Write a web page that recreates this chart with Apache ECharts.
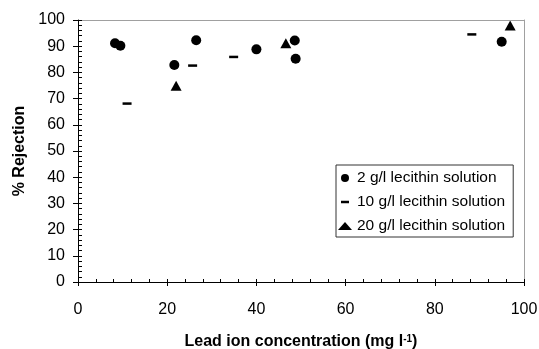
<!DOCTYPE html>
<html>
<head>
<meta charset="utf-8">
<script src="https://cdn.jsdelivr.net/npm/echarts@6/dist/echarts.min.js"></script>
<style>
  html, body { margin: 0; padding: 0; background: #fff; }
  #chart { width: 539px; height: 349px; }
</style>
</head>
<body>
<div id="chart"></div>
<script>
// Lead ion concentration (mg/l) vs % rejection, for three lecithin concentrations
const seriesNames = ['2 g/l lecithin solution', '10 g/l lecithin solution', '20 g/l lecithin solution'];

const lecithin2X = [8.3, 9.5, 21.6, 26.5, 40.0, 48.6, 48.8, 95.0];
const lecithin2Y = [91.1, 90.2, 82.8, 92.3, 88.8, 92.2, 85.2, 91.7];

const lecithin10X = [11.0, 25.7, 34.9, 88.3];
const lecithin10Y = [68.1, 82.6, 85.9, 94.5];

const lecithin20X = [22.0, 46.6, 96.9];
const lecithin20Y = [74.9, 91.1, 97.9];

const xTicks = [0, 20, 40, 60, 80, 100];
const yTicks = [0, 10, 20, 30, 40, 50, 60, 70, 80, 90, 100];

const pairs = (xs, ys) => xs.map((x, i) => [x, ys[i]]);

const FONT = '"Liberation Sans", Arial, sans-serif';
const dashIcon = 'path://M0,0L0,0M14,8L14,8M3,2.75H11V5.25H3Z';
const BLACK = '#000';
const FRAME = '#a0a0a0';

const xMin = xTicks[0], xMax = xTicks[xTicks.length - 1];
const yMin = yTicks[0], yMax = yTicks[yTicks.length - 1];

const chart = echarts.init(document.getElementById('chart'), null, { renderer: 'canvas' });

// bare helper axes: frame lines (top/right) and inward tick marks
function plainAxis(extra) {
  return Object.assign({
    type: 'value',
    axisLine: { show: false, onZero: false },
    axisTick: { show: false },
    minorTick: { show: false },
    splitLine: { show: false },
    axisLabel: { show: false }
  }, extra);
}

chart.setOption({
  animation: false,
  backgroundColor: '#fff',
  textStyle: { fontFamily: FONT },
  grid: {
    left: 78, right: 15, top: 20, bottom: 67, show: false,
    containLabel: false, outerBoundsMode: 'none'
  },
  legend: {
    orient: 'vertical',
    left: 336, top: 165,
    padding: [5, 8, 3, 2],
    itemWidth: 14, itemHeight: 8, itemGap: 8,
    borderColor: '#333', borderWidth: 1, borderRadius: 0,
    backgroundColor: '#fff',
    textStyle: { fontFamily: FONT, fontSize: 15.5, color: BLACK, lineHeight: 16 },
    data: [
      { name: seriesNames[0], icon: 'circle' },
      { name: seriesNames[1], icon: dashIcon },
      { name: seriesNames[2], icon: 'triangle' }
    ]
  },
  xAxis: [
    {
      type: 'value', min: xMin, max: xMax, interval: 20,
      position: 'bottom', z: 5,
      axisLine: { show: true, onZero: false, lineStyle: { color: BLACK, width: 1 } },
      axisTick: { show: true, inside: false, length: 4, lineStyle: { color: BLACK } },
      splitLine: { show: false },
      axisLabel: { fontFamily: FONT, fontSize: 16, color: BLACK, margin: 20 },
      name: '{t|Lead ion concentration (mg l}{s|-1}{t|)}',
      nameLocation: 'middle', nameGap: 52,
      nameTextStyle: {
        rich: {
          t: { fontFamily: FONT, fontSize: 16, fontWeight: 'bold', color: BLACK },
          s: { fontFamily: FONT, fontSize: 10, fontWeight: 'bold', color: BLACK, verticalAlign: 'top' }
        }
      }
    },
    plainAxis({
      min: xMin, max: xMax, interval: 20, position: 'bottom', offset: 0, z: 5,
      axisTick: { show: true, inside: true, length: 3, lineStyle: { color: BLACK } },
      minorTick: { show: true, splitNumber: 5, length: 3, lineStyle: { color: BLACK } }
    }),
    plainAxis({
      min: xMin, max: xMax, interval: 20, position: 'top', z: 4,
      axisLine: { show: true, onZero: false, lineStyle: { color: FRAME, width: 1 } }
    })
  ],
  yAxis: [
    {
      type: 'value', min: yMin, max: yMax, interval: 10,
      position: 'left', z: 5,
      axisLine: { show: true, onZero: false, lineStyle: { color: BLACK, width: 1 } },
      axisTick: { show: true, inside: false, length: 5, lineStyle: { color: BLACK } },
      splitLine: { show: false },
      axisLabel: { fontFamily: FONT, fontSize: 16, color: BLACK, margin: 13 },
      name: '% Rejection',
      nameLocation: 'middle', nameGap: 49,
      nameTextStyle: { fontFamily: FONT, fontSize: 16, fontWeight: 'bold', color: BLACK }
    },
    plainAxis({
      min: yMin, max: yMax, interval: 10, position: 'left', offset: 0, z: 5,
      axisTick: { show: true, inside: true, length: 4, lineStyle: { color: BLACK } },
      minorTick: { show: true, splitNumber: 5, length: 4, lineStyle: { color: BLACK } }
    }),
    plainAxis({
      min: yMin, max: yMax, interval: 10, position: 'right', z: 4,
      axisLine: { show: true, onZero: false, lineStyle: { color: FRAME, width: 1 } }
    })
  ],
  series: [
    {
      name: seriesNames[0], type: 'scatter',
      symbol: 'circle', symbolSize: 10,
      itemStyle: { color: BLACK, opacity: 1 },
      data: pairs(lecithin2X, lecithin2Y)
    },
    {
      name: seriesNames[1], type: 'scatter',
      symbol: 'rect', symbolSize: [9, 2.5],
      itemStyle: { color: BLACK, opacity: 1 },
      data: pairs(lecithin10X, lecithin10Y)
    },
    {
      name: seriesNames[2], type: 'scatter',
      symbol: 'triangle', symbolSize: [11, 10],
      itemStyle: { color: BLACK, opacity: 1 },
      data: pairs(lecithin20X, lecithin20Y)
    }
  ]
});
</script>
</body>
</html>
